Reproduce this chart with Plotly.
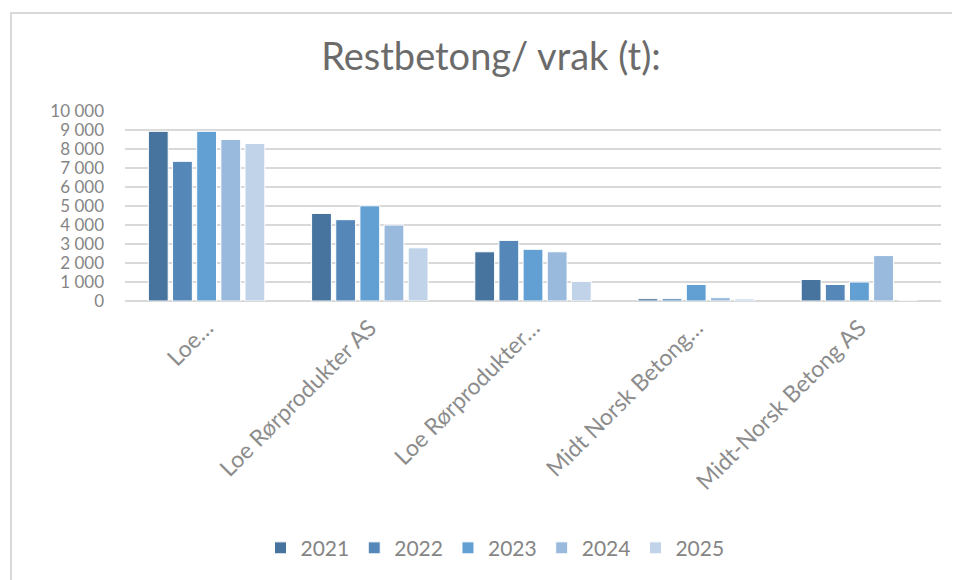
import plotly.graph_objects as go

categories = ["Loe…", "Loe Rørprodukter AS", "Loe Rørprodukter…", "Midt Norsk Betong…", "Midt-Norsk Betong AS"]
years = ["2021", "2022", "2023", "2024", "2025"]
values_2021 = [8930, 4610, 2590, 120, 1130]
values_2022 = [7350, 4280, 3190, 120, 870]
values_2023 = [8930, 5010, 2720, 870, 1000]
values_2024 = [8500, 4000, 2590, 180, 2390]
values_2025 = [8290, 2800, 1030, 110, 0]
series = [values_2021, values_2022, values_2023, values_2024, values_2025]
colors = ["#47749E", "#5588B9", "#629FD3", "#9ABADD", "#C0D3E9"]
y_ticks = [0, 1000, 2000, 3000, 4000, 5000, 6000, 7000, 8000, 9000, 10000]

FONT = "Lato"
GRAY = "#858585"

fig = go.Figure()
for yr, vals, col in zip(years, series, colors):
    fig.add_trace(go.Bar(
        x=categories, y=vals, name=yr,
        marker=dict(color=col, line=dict(color="white", width=1)),
    ))

# page body has an 8px margin; work in screen pixels and shift
OFF = 8
SW, SH = 960, 580
W, H = SW - OFF, SH - OFF
left, right, top, bottom = 125, 941, 110.5, 301.5  # plot area in screen px
ml = left - OFF
mr = SW - right
mt = top - OFF
mb = SH - bottom
pw = W - ml - mr
ph = H - mt - mb

def px2x(p):
    return (p - left) / pw

def py2y(p):
    return (bottom - p) / ph

fig.update_layout(
    width=W, height=H,
    margin=dict(l=ml, r=mr, t=mt, b=mb, autoexpand=False),
    paper_bgcolor="white", plot_bgcolor="white",
    barmode="group", bargap=0.26, bargroupgap=0.18,
    separators=", ",
    font=dict(family=FONT, color=GRAY),
    title=dict(text="Restbetong/ vrak (t):", x=(491 - OFF) / W, xref="container", xanchor="center",
               y=1 - (57 - OFF) / H, yref="container", yanchor="middle",
               font=dict(family=FONT, size=38, color="#6b6b6b")),
    xaxis=dict(tickangle=-45, tickfont=dict(size=23, color="#8c8c8c", family=FONT),
               showgrid=False, showline=False, ticks="", ticklabelstandoff=8),
    yaxis=dict(range=[0, 10000], tickvals=y_ticks, tickformat=",d",
               tickfont=dict(size=17, color=GRAY, family=FONT),
               showgrid=True, gridcolor="#d9d9d9", gridwidth=2,
               zeroline=True, zerolinecolor="#d9d9d9", zerolinewidth=2,
               showline=False, ticks="", ticklabelstandoff=20),
    legend=dict(orientation="h", x=px2x(495), xanchor="center", y=py2y(550), yanchor="middle",
                font=dict(size=21, color=GRAY, family=FONT), itemwidth=30,
                traceorder="normal"),
    shapes=[dict(type="rect", xref="paper", yref="paper",
                 x0=px2x(11), x1=px2x(975), y0=py2y(595), y1=py2y(12),
                 line=dict(color="#d9d9d9", width=2), fillcolor="rgba(0,0,0,0)", layer="below")],
)

fig.write_html("out.html")
